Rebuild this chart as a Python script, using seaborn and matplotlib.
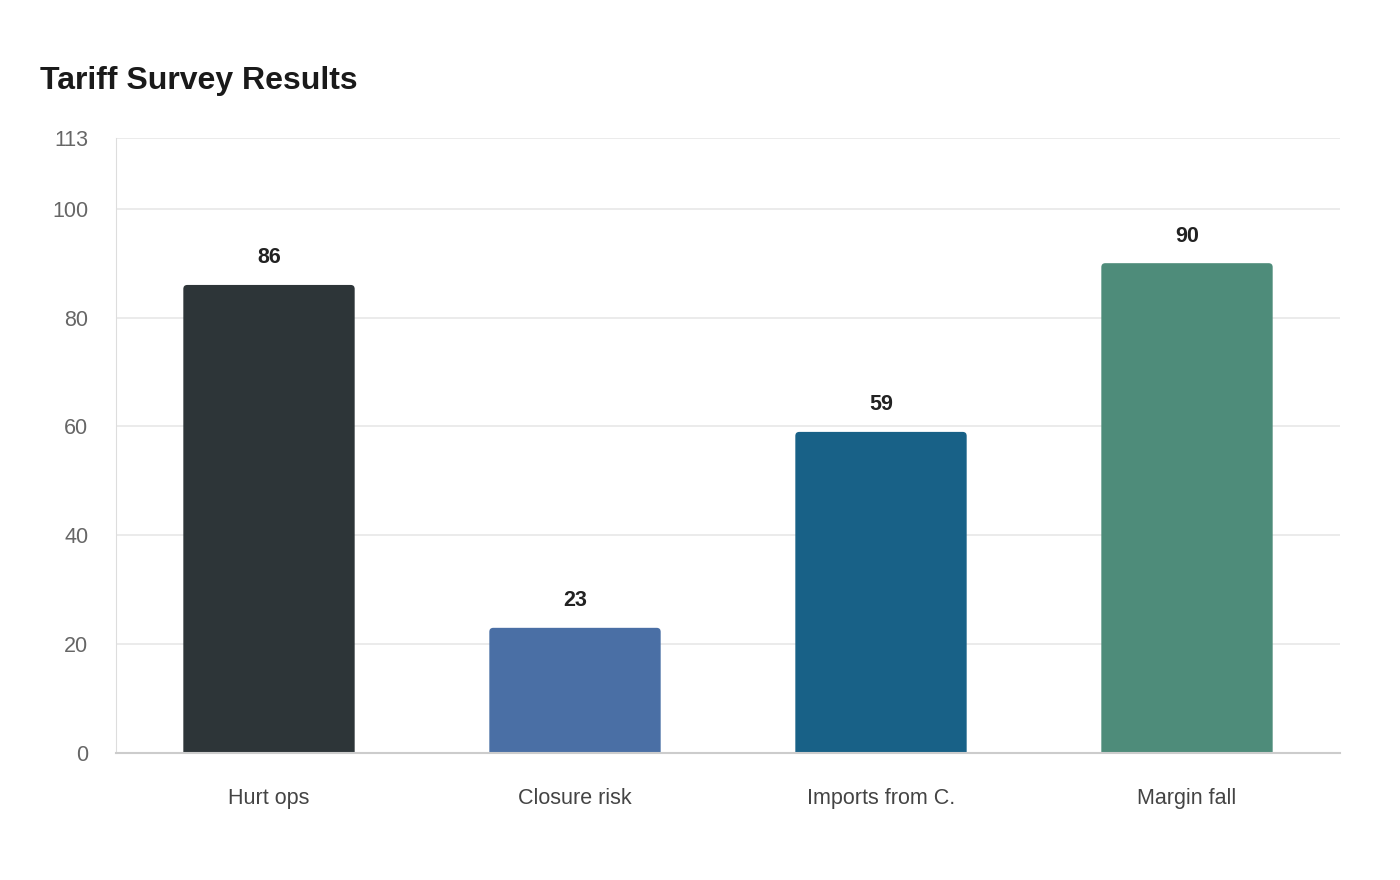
import numpy as np
import pandas as pd
import seaborn as sns
import matplotlib.pyplot as plt
from matplotlib.patches import FancyBboxPatch

categories = ["Hurt ops", "Closure risk", "Imports from C.", "Margin fall"]
values = [86, 23, 59, 90]
colors = ["#2d3538", "#4a6fa5", "#186187", "#4e8c7a"]
yticks = [0, 20, 40, 60, 80, 100, 113]

sns.set_theme(style="white")
plt.rcParams['font.family'] = ['Liberation Sans', 'DejaVu Sans']

df = pd.DataFrame({"cat": categories, "val": values})

fig = plt.figure(figsize=(14, 8.8), dpi=100)
ax = fig.add_axes([116 / 1400, 1 - 753 / 880, 1224 / 1400, 615 / 880])

sns.barplot(data=df, x="cat", y="val", hue="cat", palette=colors,
            width=0.56, legend=False, ax=ax, saturation=1, zorder=3)

# rounded top corners: redraw each bar, pushing the bottom below 0 so it gets clipped
px_per_x = 1224 / 4.0
px_per_y = 615 / 113.0
for p in list(ax.patches):
    x0, y0 = p.get_x(), p.get_y()
    w, h = p.get_width(), p.get_height()
    fc = p.get_facecolor()
    p.remove()
    r = 4 / px_per_x
    drop = 10 / px_per_y
    box = FancyBboxPatch((x0, y0 - drop), w, h + drop,
                         boxstyle=f"round,pad=0,rounding_size={r}",
                         mutation_aspect=px_per_x / px_per_y,
                         facecolor=fc, edgecolor="none", zorder=3)
    ax.add_patch(box)

for i, v in enumerate(values):
    ax.text(i, v + 27 / px_per_y, str(v), ha="center", va="center",
            fontsize=15.5, fontweight="bold", color="#222222", zorder=4)

ax.set_xlim(-0.5, 3.5)
ax.set_ylim(0, 113)
ax.set_yticks(yticks)
ax.set_yticklabels([str(t) for t in yticks])
ax.grid(axis="y", color="#e8e8e8", linewidth=1.2, zorder=0)
ax.set_xlabel("")
ax.set_ylabel("")

for s in ["top", "right"]:
    ax.spines[s].set_visible(False)
ax.spines["left"].set_color("#dddddd")
ax.spines["left"].set_linewidth(0.8)
ax.spines["bottom"].set_color("#cccccc")
ax.spines["bottom"].set_linewidth(1.5)
ax.spines["bottom"].set_zorder(5)

ax.tick_params(axis="y", length=0, pad=20, labelsize=15.5, labelcolor="#666666")
ax.tick_params(axis="x", length=0, pad=25, labelsize=15.5, labelcolor="#444444")

fig.text(40 / 1400, 1 - 81 / 880, "Tariff Survey Results", fontsize=23,
         fontweight="bold", color="#1a1a1a", ha="left", va="center")

fig.savefig("out.png", dpi=100, facecolor="white")
